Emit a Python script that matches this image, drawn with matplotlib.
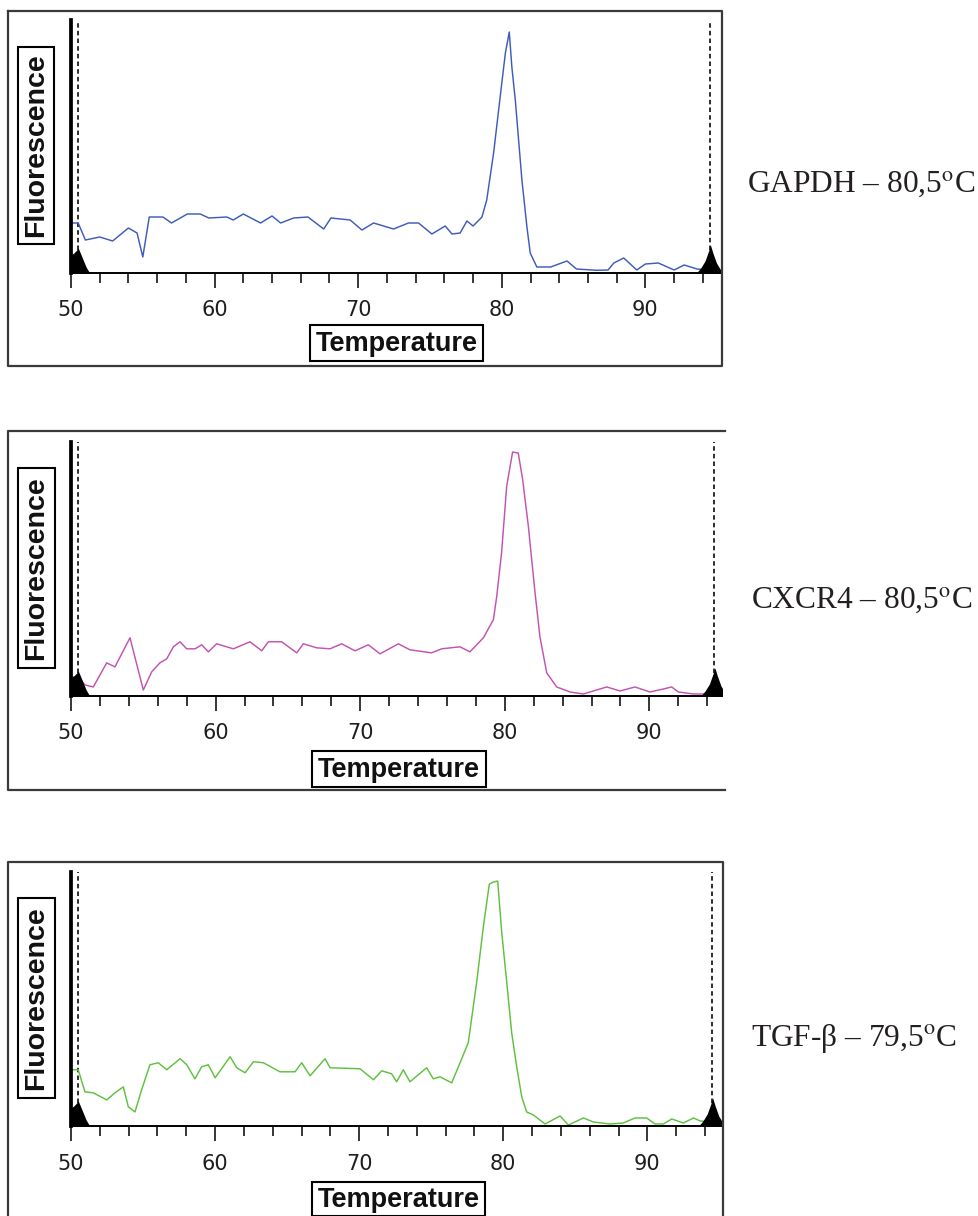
import matplotlib
matplotlib.use('Agg')
import matplotlib.pyplot as plt
from matplotlib.patches import Rectangle
from matplotlib.lines import Line2D
from matplotlib.ticker import MultipleLocator

# ---------------- data (temperature in deg C, fluorescence in arbitrary units) -------------
gapdh_temp = [50.0, 50.5, 51.0, 52.0, 52.9, 54.0, 54.6, 55.0, 55.45, 56.4, 57.0, 58.1, 59.0, 59.6,
              60.85, 61.3, 62.0, 63.2, 64.0, 64.6, 65.5, 66.5, 67.6, 68.1, 69.44, 70.26, 71.07,
              72.46, 73.5, 74.2, 75.13, 76.06, 76.53, 77.1, 77.57, 78.0, 78.62, 78.95, 79.43,
              79.78, 80.0, 80.25, 80.52, 80.7, 80.94, 81.17, 81.4, 81.75, 81.98, 82.44, 83.4,
              84.54, 85.2, 86.6, 87.4, 87.8, 88.49, 89.4, 90.0, 90.9, 92.0, 92.7, 93.6, 94.5]
gapdh_fluor = [50, 50, 33, 36, 32, 45, 40, 16, 56, 56, 50, 59, 59, 55, 56, 53, 59, 50, 57, 50,
               55, 56, 44, 55, 53, 43, 50, 44, 50, 50, 39, 47, 39, 40, 52, 47, 56, 73, 120, 163,
               190, 220, 241, 206, 173, 133, 93, 46, 20, 6, 6, 12, 4, 2.7, 3, 10, 15, 3, 9, 10,
               3, 8, 4, 3]

cxcr4_temp = [50.0, 50.5, 50.97, 51.54, 52.47, 53.04, 54.08, 55.0, 55.58, 56.15, 56.62, 57.08,
              57.54, 58.0, 58.58, 59.04, 59.5, 60.07, 61.23, 62.38, 63.19, 63.65, 64.57, 65.61,
              66.07, 66.99, 67.91, 68.72, 69.64, 70.56, 71.37, 72.64, 73.44, 74.94, 75.63, 76.9,
              77.59, 78.52, 79.21, 79.44, 79.78, 80.13, 80.54, 80.93, 81.23, 81.63, 82.09, 82.43,
              82.9, 83.59, 84.51, 85.43, 87.05, 87.97, 89.0, 90.04, 90.97, 91.54, 92.0, 93.04, 94.5]
cxcr4_fluor = [19, 19, 11, 9, 33, 29, 58, 6, 24, 33, 37, 49, 54, 47, 47, 51, 44, 52, 47, 54, 45,
               54, 54, 43, 52, 48, 47, 52, 45, 51, 42, 52, 46, 43, 47, 49, 44, 58, 76, 99, 143,
               209, 243, 242, 216, 169, 103, 59, 23, 9, 4, 2, 9, 5, 9, 4, 7, 9, 4, 2, 2]

tgf_temp = [50.0, 50.5, 50.97, 51.55, 52.48, 53.05, 53.63, 53.98, 54.44, 54.9, 55.48, 56.06,
            56.64, 57.57, 58.03, 58.6, 59.07, 59.53, 60.0, 61.04, 61.5, 62.08, 62.66, 63.35,
            64.5, 65.55, 66.01, 66.59, 67.63, 67.98, 70.06, 70.99, 71.56, 72.25, 72.6, 73.06,
            73.52, 74.68, 75.14, 75.61, 76.42, 77.0, 77.57, 78.15, 78.62, 79.03, 79.31, 79.61,
            79.89, 80.24, 80.58, 80.93, 81.28, 81.62, 82.09, 82.9, 83.94, 84.52, 85.56, 86.25,
            87.41, 88.33, 89.14, 89.95, 90.53, 91.11, 91.69, 92.5, 93.2, 93.66, 94.5]
tgf_fluor = [56, 56, 34, 33, 26, 33, 39, 19, 14, 36, 61, 63, 56, 67, 61, 47, 59, 61, 48, 69, 58,
             53, 64, 63, 54, 54, 63, 50, 67, 58, 57, 46, 55, 52, 44, 56, 44, 58, 47, 49, 43, 63,
             83, 143, 199, 241, 243, 244, 193, 143, 93, 59, 29, 14, 11, 2, 10, 1, 8, 4, 2, 3, 8,
             8, 2, 2, 7, 3, 8, 5, 4]

# black cursor markers at the two ends of the melt range
left_mark_temp = [49.85, 50.0, 50.2, 50.4, 50.5, 50.65, 50.85, 51.05, 51.3]
left_mark_h = [0, 18, 20, 23, 25, 20, 13, 6, 0]
right_mark_temp = [93.55, 93.85, 94.15, 94.4, 94.53, 94.7, 94.95, 95.2, 95.45]
right_mark_h = [0, 5, 12, 22, 28, 20, 10, 4, 2]
cursor_temps = [50.5, 94.5]

gene_labels = [r"GAPDH – 80,5$^{\mathrm{o}}$C",
               r"CXCR4 – 80,5$^{\mathrm{o}}$C",
               r"TGF-β – 79,5$^{\mathrm{o}}$C"]
major_ticks = [50, 60, 70, 80, 90]
y_max = 253

# ---------------- figure ----------------
W, H = 979, 1216
plt.rcParams['mathtext.fontset'] = 'stix'
fig = plt.figure(figsize=(W / 100, H / 100), dpi=100)


def fx(px):
    return px / W


def fy(py):
    return 1 - py / H


def fig_line(xs, ys, **kw):
    fig.add_artist(Line2D([fx(x) for x in xs], [fy(y) for y in ys],
                          transform=fig.transFigure, **kw))


layouts = [
    dict(baseline=273, top=20, scale=14.36, color='#3f5cba', fl_box=(18, 47, 54, 244),
         t_box=(310, 325, 483, 361), label_xy=(747, 192)),
    dict(baseline=696, top=442, scale=14.46, color='#c353b1', fl_box=(18, 468, 55, 668),
         t_box=(312, 751, 486, 787), label_xy=(751, 608)),
    dict(baseline=1126, top=872, scale=14.41, color='#5fc13f', fl_box=(18, 898, 55, 1098),
         t_box=(312, 1182, 485, 1216), label_xy=(751, 1046)),
]
series = [(gapdh_temp, gapdh_fluor), (cxcr4_temp, cxcr4_fluor), (tgf_temp, tgf_fluor)]

for lay, (temps, fluor), glabel in zip(layouts, series, gene_labels):
    b, t = lay['baseline'], lay['top']
    ax = fig.add_axes([fx(71), fy(b), fx(722) - fx(71), (b - t) / H])
    ax.set_xlim(50, 50 + 651 / lay['scale'])
    ax.set_ylim(0, y_max)
    ax.patch.set_alpha(0)

    ax.plot(temps, fluor, color=lay['color'], lw=1.05, zorder=2)
    ax.fill_between(left_mark_temp, 0, left_mark_h, color='black', lw=0, zorder=3)
    ax.fill_between(right_mark_temp, 0, right_mark_h, color='black', lw=0, zorder=3)
    for ct in cursor_temps:
        ax.axvline(ct, color='black', lw=1.15, linestyle=(0, (2.8, 2.0)), zorder=1)

    for s in ['top', 'right']:
        ax.spines[s].set_visible(False)
    ax.spines['left'].set_linewidth(2.7)
    ax.spines['bottom'].set_linewidth(1.4)
    ax.spines['left'].set_color('black')
    ax.spines['bottom'].set_color('black')

    ax.set_xticks(major_ticks)
    ax.xaxis.set_minor_locator(MultipleLocator(2))
    ax.tick_params(axis='x', which='major', length=10.8, width=1.1, pad=9,
                   labelsize=15, labelcolor='#1e1e1e', direction='out')
    ax.tick_params(axis='x', which='minor', length=7.0, width=1.1, direction='out')
    ax.set_yticks([70, 95, 158, 201, 240])
    ax.tick_params(axis='y', which='major', length=1.4, width=1.2, color='white',
                   direction='out', labelleft=False)
    for lbl in ax.get_xticklabels():
        lbl.set_family('DejaVu Sans')

    # Fluorescence label with box
    x0, y0, x1, y1 = lay['fl_box']
    fig.add_artist(Rectangle((fx(x0), fy(y1)), fx(x1) - fx(x0), (y1 - y0) / H,
                             transform=fig.transFigure, fill=False, ec='black', lw=1.5))
    fig.text(fx((x0 + x1) / 2), fy((y0 + y1) / 2), 'Fluorescence', rotation=90,
             ha='center', va='center', fontsize=20.5, fontweight='bold',
             family='Liberation Sans', color='#111111')

    # Temperature label with box
    x0, y0, x1, y1 = lay['t_box']
    fig.add_artist(Rectangle((fx(x0), fy(y1)), fx(x1) - fx(x0), (y1 - y0) / H,
                             transform=fig.transFigure, fill=False, ec='black', lw=1.5))
    fig.text(fx((x0 + x1) / 2), fy((y0 + y1) / 2 + 1), 'Temperature',
             ha='center', va='center', fontsize=19.5, fontweight='bold',
             family='Liberation Sans', color='#111111')

    # gene label on the right
    lx, ly = lay['label_xy']
    fig.text(fx(lx), fy(ly), glabel, ha='left', va='baseline', fontsize=22.6,
             family='Liberation Serif', color='#231f20')

# outer frames
frame_kw = dict(color='#3a3a3a', lw=1.6)
fig_line([8, 722, 722, 8, 8], [11, 11, 366, 366, 11], **frame_kw)
fig_line([725, 8, 8, 725], [431, 431, 790, 790], **frame_kw)
fig_line([8, 8, 723, 723], [1216, 862, 862, 1216], **frame_kw)

fig.savefig('out.png', dpi=100)
